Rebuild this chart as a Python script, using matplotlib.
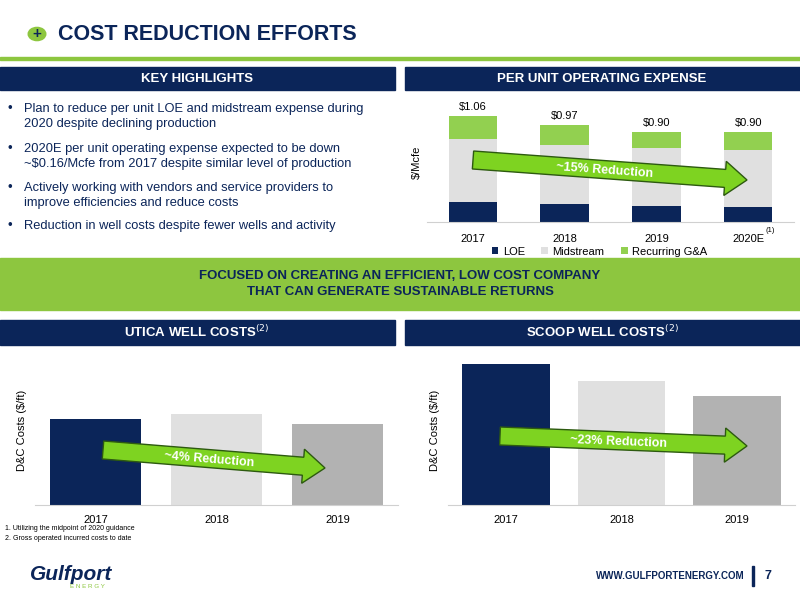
import matplotlib
matplotlib.use("Agg")
import matplotlib.pyplot as plt
from matplotlib.patches import FancyArrow, Rectangle, Circle
from matplotlib.transforms import IdentityTransform
import numpy as np

years = ["2017", "2018", "2019", "2020E"]
loe = [0.20, 0.18, 0.16, 0.15]
midstream = [0.63, 0.59, 0.58, 0.57]
ga = [0.23, 0.20, 0.16, 0.18]
totals = ["$1.06", "$0.97", "$0.90", "$0.90"]
well_years = ["2017", "2018", "2019"]
utica = [86, 91, 81]
scoop = [141, 124, 109]

NAVY = "#0b2559"; GREEN = "#8dc63f"; LGRAY = "#e0e0e0"; MGRAY = "#b2b2b2"
W, H = 800, 600
fig = plt.figure(figsize=(8, 6), dpi=100)
plt.rcParams['font.family'] = ['Liberation Sans', 'DejaVu Sans']

def fx(x): return x / W
def fy(y): return 1 - y / H
def rect(x0, y0, x1, y1, c, z=0):
    fig.add_artist(Rectangle((fx(x0), fy(y1)), fx(x1 - x0), (y1 - y0) / H, color=c, transform=fig.transFigure, zorder=z))
def txt(x, y, s, **kw):
    fig.text(fx(x), fy(y), s, **kw)
def arrow(x0, y0, x1, y1, w, label, fs):
    a = FancyArrow(x0, H - y0, x1 - x0, -(y1 - y0), width=w, head_width=w * 1.9, head_length=22,
                   length_includes_head=True, facecolor="#7ed321", edgecolor="#2d5a10", lw=1,
                   transform=IdentityTransform(), zorder=10)
    fig.add_artist(a)
    ang = -np.degrees(np.arctan2(y1 - y0, x1 - x0))
    txt((x0 + x1) / 2 - 5, (y0 + y1) / 2 + 1, label, color="white", fontsize=fs, weight="bold",
        rotation=ang, ha="center", va="center", zorder=11, rotation_mode="anchor")

# title
fig.add_artist(Circle((fx(37), fy(34)), 0.011, color=GREEN, transform=fig.transFigure))
txt(37, 34, "+", color=NAVY, fontsize=11, weight="bold", ha="center", va="center")
txt(58, 34, "COST REDUCTION EFFORTS", color=NAVY, fontsize=15.5, weight="bold", va="center")
rect(0, 57, 800, 60, GREEN)
# headers
rect(0, 67, 395, 90, NAVY); rect(405, 67, 800, 90, NAVY)
txt(197, 79, "KEY HIGHLIGHTS", color="white", fontsize=9.5, weight="bold", ha="center", va="center")
txt(602, 79, "PER UNIT OPERATING EXPENSE", color="white", fontsize=9.5, weight="bold", ha="center", va="center")
bullets = [(103, "Plan to reduce per unit LOE and midstream expense during\n2020 despite declining production"),
           (143, "2020E per unit operating expense expected to be down\n~$0.16/Mcfe from 2017 despite similar level of production"),
           (182, "Actively working with vendors and service providers to\nimprove efficiencies and reduce costs"),
           (220, "Reduction in well costs despite fewer wells and activity")]
for y, s in bullets:
    txt(8, y, "•", color=NAVY, fontsize=9.5, va="top")
    txt(24, y, s, color=NAVY, fontsize=9.3, va="top", linespacing=1.3)

# opex chart
ax = fig.add_axes([fx(427), fy(222), fx(367), 120 / H])
x = np.arange(4)
bw = 0.53
ax.bar(x, loe, bw, color=NAVY, label="LOE")
ax.bar(x, midstream, bw, bottom=loe, color=LGRAY, label="Midstream")
b2 = np.array(loe) + np.array(midstream)
ax.bar(x, ga, bw, bottom=b2, color="#92d050", label="Recurring G&A")
for i in range(4):
    ax.text(x[i], b2[i] + ga[i] + 0.04, totals[i], ha="center", va="bottom", fontsize=8)
ax.set_xlim(-0.5, 3.5); ax.set_ylim(0, 1.2)
ax.set_xticks(x); ax.set_xticklabels(years, fontsize=8)
ax.tick_params(length=0, pad=9)
ax.set_yticks([])
for s in ["top", "right", "left"]:
    ax.spines[s].set_visible(False)
ax.spines["bottom"].set_color("#d0d0d0")
ax.set_ylabel("$/Mcfe", fontsize=8, labelpad=4)
ax.legend(loc="upper center", bbox_to_anchor=(0.47, -0.16), ncol=3, frameon=False, fontsize=8,
          handlelength=0.6, handleheight=0.6, columnspacing=1.5, handletextpad=0.4, borderpad=0)
txt(765, 232, "(1)", fontsize=5.5)
arrow(473, 160, 747, 180, 18, "~15% Reduction", 9)

# band
rect(0, 258, 800, 310, GREEN)
txt(400, 284, "FOCUSED ON CREATING AN EFFICIENT, LOW COST COMPANY\nTHAT CAN GENERATE SUSTAINABLE RETURNS",
    color=NAVY, fontsize=9.5, weight="bold", ha="center", va="center", linespacing=1.5)
rect(0, 320, 395, 345, NAVY); rect(405, 320, 800, 345, NAVY)
txt(197, 332, "UTICA WELL COSTS$^{(2)}$", color="white", fontsize=9.5, weight="bold", ha="center", va="center")
txt(602, 332, "SCOOP WELL COSTS$^{(2)}$", color="white", fontsize=9.5, weight="bold", ha="center", va="center")

def well(x0, x1, vals):
    a = fig.add_axes([fx(x0), fy(505), fx(x1 - x0), 150 / H])
    xx = np.arange(3)
    a.bar(xx, vals, 0.76, color=[NAVY, LGRAY, MGRAY])
    a.set_xlim(-0.5, 2.5); a.set_ylim(0, 150)
    a.set_xticks(xx); a.set_xticklabels(well_years, fontsize=8)
    a.tick_params(length=0, pad=7); a.set_yticks([])
    for s in ["top", "right", "left"]:
        a.spines[s].set_visible(False)
    a.spines["bottom"].set_color("#d0d0d0")
    a.set_ylabel("D&C Costs ($/ft)", fontsize=8, labelpad=6)
    return a
well(35, 398, utica)
well(448, 795, scoop)
arrow(103, 450, 325, 468, 18, "~4% Reduction", 9)
arrow(500, 436, 747, 446, 18, "~23% Reduction", 9)

txt(5, 529, "1. Utilizing the midpoint of 2020 guidance", fontsize=5, va="center")
txt(5, 539, "2. Gross operated incurred costs to date", fontsize=5, va="center")
txt(30, 575, "Gulfport", color=NAVY, fontsize=15, weight="bold", style="italic", va="center")
txt(70, 587, "E N E R G Y", color=GREEN, fontsize=4.5, va="center")
txt(745, 576, "WWW.GULFPORTENERGY.COM", color=NAVY, fontsize=7, weight="bold", ha="right", va="center")
rect(752, 566, 754, 586, NAVY)
txt(768, 576, "7", color=NAVY, fontsize=9, weight="bold", ha="center", va="center")

fig.savefig("out.png", dpi=100)
